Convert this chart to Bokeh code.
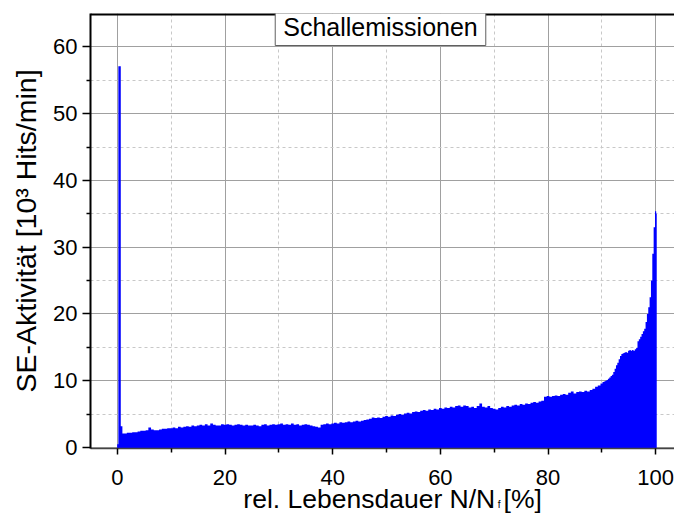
import numpy as np
from bokeh.plotting import figure
from bokeh.models import ColumnDataSource, FixedTicker, LinearAxis, Label, Range1d, Span
from bokeh.embed import file_html
from bokeh.resources import INLINE

# ---------------- data ----------------
start_x = [-0.05, 0.4, 0.85]
start_y = [0.5, 57.1, 3.2]

main_x = list(np.arange(1.0, 90.01, 0.5))
main_y = [
    2.1, 2.1, 2.2, 2.2, 2.3, 2.3, 2.4, 2.5, 2.5, 2.6,
    3.0, 2.7, 2.6, 2.6, 2.7, 2.8, 2.8, 2.9, 2.9, 3.0,
    2.9, 3.1, 3.0, 3.1, 3.2, 3.1, 3.3, 3.2, 3.3, 3.4,
    3.3, 3.5, 3.3, 3.6, 3.4, 3.3, 3.3, 3.5, 3.4, 3.5,
    3.4, 3.3, 3.4, 3.5, 3.4, 3.3, 3.4, 3.3, 3.3, 3.4,
    3.3, 3.2, 3.4, 3.5, 3.3, 3.4, 3.5, 3.4, 3.5, 3.6,
    3.4, 3.5, 3.4, 3.6, 3.4, 3.5, 3.3, 3.4, 3.5, 3.4,
    3.3, 3.2, 3.1, 3.0, 3.4, 3.5, 3.6, 3.5, 3.6, 3.7,
    3.6, 3.8, 3.7, 3.8, 3.9, 3.8, 3.9, 4.0, 3.9, 4.0,
    4.1, 4.2, 4.3, 4.5, 4.4, 4.5, 4.4, 4.6, 4.7, 4.6,
    4.8, 4.7, 4.9, 5.0, 4.9, 5.1, 5.2, 5.1, 5.3, 5.4,
    5.3, 5.5, 5.6, 5.5, 5.7, 5.6, 5.8, 5.7, 5.9, 5.8,
    6.0, 5.9, 6.1, 6.0, 6.2, 6.3, 6.1, 6.3, 6.2, 6.0,
    6.1, 5.9, 6.2, 6.6, 6.1, 6.0, 6.2, 5.9, 5.8, 5.7,
    5.9, 6.1, 6.0, 6.2, 6.1, 6.3, 6.4, 6.3, 6.5, 6.4,
    6.6, 6.5, 6.7, 6.8, 6.7, 6.9, 7.0, 7.6, 7.7, 7.6,
    7.7, 7.8, 7.7, 7.9, 8.0, 7.9, 8.2, 8.4, 8.1, 8.3,
    8.4, 8.3, 8.5, 8.4, 8.6, 8.8, 9.1, 9.3,
    9.6,
]

end_x = list(np.arange(90.25, 100.01, 0.25)) + [100.2]
end_y = [
    9.8, 9.9, 10.0, 10.1,
    10.3, 10.5, 10.7, 10.9,
    11.3, 11.8, 12.3, 12.7,
    13.2, 13.7, 14.0, 14.1,
    14.2, 14.3, 14.2, 14.5,
    14.6, 14.5, 14.6, 14.5,
    14.7, 14.9, 15.9, 16.2,
    16.6, 17.0, 17.4, 17.8,
    18.8, 20.0, 21.0, 22.5,
    25.0, 29.0, 33.0, 35.4,
    35.0,
]

x_ticks = [0, 20, 40, 60, 80, 100]
x_minor = [10, 30, 50, 70, 90]
y_ticks = [0, 10, 20, 30, 40, 50, 60]
y_minor = [5, 15, 25, 35, 45, 55]

title_text = "Schallemissionen"
y_label = "SE-Aktivität [10³ Hits/min]"
x_label_main = "rel. Lebensdauer N/N"
x_label_sub = "f"
x_label_tail = "[%]"
# x positions (data units) at which the pieces of the x label are centred
x_label_pos = [46.8, 75.3]
x_sub_pos = [70.9]

# ---------------- figure ----------------
FONT = "Liberation Sans"
BLUE = "#0000ff"
Y0 = -0.15
Y1 = 65

p = figure(width=674, height=516, output_backend="svg", toolbar_location=None,
           x_range=Range1d(-5, 103.5), y_range=Range1d(Y0, Y1),
           min_border_left=90, min_border_right=0, min_border_top=13, min_border_bottom=65)
p.outline_line_color = None
p.outline_line_alpha = 0
p.background_fill_color = "white"
p.border_fill_color = "white"

src = ColumnDataSource(dict(x=start_x + main_x + end_x, y=start_y + main_y + end_y))
p.varea_step(x="x", y1=Y0, y2="y", step_mode="center", source=src, fill_color=BLUE)

# axes
xt = FixedTicker(ticks=x_ticks, minor_ticks=x_minor)
yt = FixedTicker(ticks=y_ticks, minor_ticks=y_minor)
p.xaxis.ticker = xt
p.yaxis.ticker = yt

for g, t in ((p.xgrid, xt), (p.ygrid, yt)):
    g.ticker = t
    g.grid_line_color = "#a0a0a0"
    g.grid_line_width = 1
    g.minor_grid_line_color = "#c8c8c8"
    g.minor_grid_line_dash = "3 3"
    g.minor_grid_line_width = 1

ya = p.yaxis[0]
ya.axis_line_color = "black"
ya.axis_line_width = 2
ya.major_tick_line_color = "black"
ya.major_tick_line_width = 1.5
ya.minor_tick_line_color = "black"
ya.minor_tick_line_width = 1.5
ya.major_tick_in = 0
ya.major_tick_out = 8
ya.minor_tick_in = 0
ya.minor_tick_out = 4
ya.major_label_standoff = 5
ya.major_label_text_font = FONT
ya.major_label_text_font_size = "22px"
ya.major_label_text_color = "black"
ya.axis_label = y_label
ya.axis_label_text_font = FONT
ya.axis_label_text_font_size = "28.5px"
ya.axis_label_text_font_style = "normal"
ya.axis_label_text_color = "black"
ya.axis_label_standoff = 8

xa = p.xaxis[0]
xa.axis_line_color = "#444444"
xa.axis_line_width = 1.5
xa.major_tick_line_color = "black"
xa.major_tick_line_width = 1.5
xa.minor_tick_line_color = "black"
xa.minor_tick_line_width = 1.5
xa.major_tick_in = 0
xa.major_tick_out = 6
xa.minor_tick_in = 0
xa.minor_tick_out = 4
xa.major_label_standoff = 15
xa.major_label_text_font = FONT
xa.major_label_text_font_size = "22px"
xa.major_label_text_color = "black"

# x-axis title, drawn as tick labels of two extra (line-less) axes below,
# so that the subscript f can be smaller than the rest
def text_axis(ticks, texts, size, standoff):
    ax = LinearAxis(ticker=FixedTicker(ticks=ticks, minor_ticks=[]),
                    major_label_overrides={t: s for t, s in zip(ticks, texts)},
                    axis_line_color=None, major_tick_line_color=None,
                    minor_tick_line_color=None, major_tick_out=0, major_tick_in=0,
                    minor_tick_out=0, minor_tick_in=0,
                    major_label_standoff=standoff, major_label_text_font=FONT,
                    major_label_text_font_size=size, major_label_text_color="black")
    p.add_layout(ax, "below")
    return ax

text_axis(x_label_pos, [x_label_main, x_label_tail], "26.5px", -4)
text_axis(x_sub_pos, [x_label_sub], "10px", -18)

# top border line of the frame
p.add_layout(Span(location=Y1, dimension="width", line_color="black", line_width=4))

# boxed title
p.add_layout(Label(x=290, y=441, x_units="screen", y_units="screen", text=title_text,
                   text_font=FONT, text_font_size="25px", text_color="black",
                   text_align="center", text_baseline="top",
                   border_line_color="#606060", border_line_width=1,
                   background_fill_color="white", padding=(8, 5)))

open("out.html", "w").write(file_html(p, INLINE))
